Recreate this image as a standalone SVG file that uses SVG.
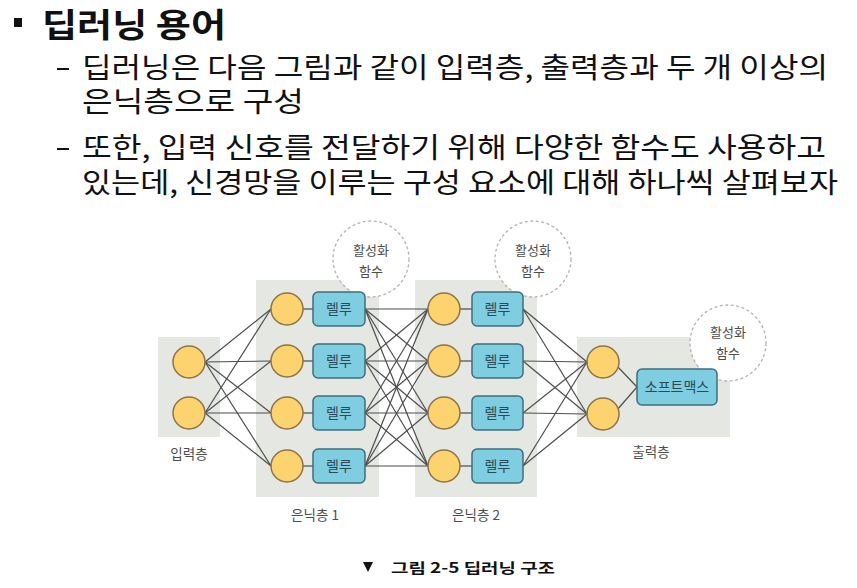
<svg xmlns="http://www.w3.org/2000/svg" width="857" height="588" viewBox="0 0 857 588">
<style>
.kr{font-family:"Noto Sans CJK KR","Noto Sans",sans-serif}
.body{font-size:28px;fill:#111}
.bg{fill:#e4e7e2}
.neu{fill:#fdd36f;stroke:#8c7447;stroke-width:1.5}
.box{fill:#7fcde0;stroke:#3f6f7c;stroke-width:1.5}
.btxt{font-size:14px;fill:#2c4a55;text-anchor:middle}
.lbl{font-size:13.5px;fill:#4d4d4d;text-anchor:middle}
.act{fill:#fff;stroke:#b3b3b3;stroke-width:1.3;stroke-dasharray:3 2.5}
.atxt{font-size:13px;fill:#4d4d4d;text-anchor:middle}
.conn line{stroke:#4d4d4d;stroke-width:1.2}
</style>
<rect width="857" height="588" fill="#fff"/>
<!-- Header text -->
<g id="header" class="kr">
<rect x="14" y="18" width="8" height="9" fill="#111"/>
<text x="42" y="37" font-size="33" font-weight="bold" fill="#111" textLength="184" lengthAdjust="spacingAndGlyphs">딥러닝 용어</text>
<rect x="57" y="68" width="12" height="2" fill="#111"/>
<text class="body"><tspan x="82" y="78" textLength="746" lengthAdjust="spacingAndGlyphs">딥러닝은 다음 그림과 같이 입력층, 출력층과 두 개 이상의</tspan><tspan x="82" y="112" textLength="222" lengthAdjust="spacingAndGlyphs">은닉층으로 구성</tspan></text>
<rect x="57" y="148" width="12" height="2" fill="#111"/>
<text class="body"><tspan x="82" y="158" textLength="744" lengthAdjust="spacingAndGlyphs">또한, 입력 신호를 전달하기 위해 다양한 함수도 사용하고</tspan><tspan x="82" y="193" textLength="756" lengthAdjust="spacingAndGlyphs">있는데, 신경망을 이루는 구성 요소에 대해 하나씩 살펴보자</tspan></text>
</g>
<!-- layer backgrounds -->
<g id="layer-bg">
<rect class="bg" x="158" y="337" width="62" height="100"/>
<rect class="bg" x="256" y="280" width="123" height="217"/>
<rect class="bg" x="415" y="280" width="122" height="217"/>
<rect class="bg" x="577" y="337" width="153" height="100"/>
</g>
<!-- activation function circles -->
<g id="act1"><circle class="act" cx="371" cy="259" r="38"/><text class="kr atxt" x="371" y="255">활성화</text><text class="kr atxt" x="371" y="276">함수</text></g>
<g id="act2"><circle class="act" cx="533" cy="259" r="38"/><text class="kr atxt" x="533" y="255">활성화</text><text class="kr atxt" x="533" y="276">함수</text></g>
<g id="act3"><circle class="act" cx="728" cy="343" r="38"/><text class="kr atxt" x="728" y="337">활성화</text><text class="kr atxt" x="728" y="358">함수</text></g>
<!-- connectors -->
<g id="connectors" class="conn">
<!-- input -> hidden1 -->
<line x1="205" y1="362" x2="271" y2="309"/><line x1="205" y1="362" x2="271" y2="361"/><line x1="205" y1="362" x2="271" y2="413"/><line x1="205" y1="362" x2="271" y2="466"/>
<line x1="205" y1="413" x2="271" y2="309"/><line x1="205" y1="413" x2="271" y2="361"/><line x1="205" y1="413" x2="271" y2="413"/><line x1="205" y1="413" x2="271" y2="466"/>
<!-- hidden1 neuron -> relu -->
<line x1="303" y1="309" x2="313" y2="309"/><line x1="303" y1="361" x2="313" y2="361"/><line x1="303" y1="413" x2="313" y2="413"/><line x1="303" y1="466" x2="313" y2="466"/>
<!-- relu1 -> hidden2 -->
<line x1="365" y1="309" x2="428" y2="309"/><line x1="365" y1="309" x2="428" y2="361"/><line x1="365" y1="309" x2="428" y2="413"/><line x1="365" y1="309" x2="428" y2="466"/>
<line x1="365" y1="361" x2="428" y2="309"/><line x1="365" y1="361" x2="428" y2="361"/><line x1="365" y1="361" x2="428" y2="413"/><line x1="365" y1="361" x2="428" y2="466"/>
<line x1="365" y1="413" x2="428" y2="309"/><line x1="365" y1="413" x2="428" y2="361"/><line x1="365" y1="413" x2="428" y2="413"/><line x1="365" y1="413" x2="428" y2="466"/>
<line x1="365" y1="466" x2="428" y2="309"/><line x1="365" y1="466" x2="428" y2="361"/><line x1="365" y1="466" x2="428" y2="413"/><line x1="365" y1="466" x2="428" y2="466"/>
<!-- hidden2 neuron -> relu -->
<line x1="460" y1="309" x2="472" y2="309"/><line x1="460" y1="361" x2="472" y2="361"/><line x1="460" y1="413" x2="472" y2="413"/><line x1="460" y1="466" x2="472" y2="466"/>
<!-- relu2 -> output -->
<line x1="523" y1="309" x2="587" y2="362"/><line x1="523" y1="309" x2="587" y2="414"/>
<line x1="523" y1="361" x2="587" y2="362"/><line x1="523" y1="361" x2="587" y2="414"/>
<line x1="523" y1="413" x2="587" y2="362"/><line x1="523" y1="413" x2="587" y2="414"/>
<line x1="523" y1="466" x2="587" y2="362"/><line x1="523" y1="466" x2="587" y2="414"/>
<!-- output -> softmax -->
<line x1="617" y1="366" x2="637" y2="387"/><line x1="617" y1="410" x2="637" y2="387"/>
</g>
<!-- input layer -->
<g id="input-layer">
<circle class="neu" cx="189" cy="362" r="16"/>
<circle class="neu" cx="189" cy="413" r="16"/>
<text class="kr lbl" x="189" y="459">입력층</text>
</g>
<!-- hidden layer 1 -->
<g id="hidden1">
<circle class="neu" cx="287" cy="309" r="16"/><circle class="neu" cx="287" cy="361" r="16"/><circle class="neu" cx="287" cy="413" r="16"/><circle class="neu" cx="287" cy="466" r="16"/>
<rect class="box" x="313" y="292" width="52" height="34" rx="5"/><text class="kr btxt" x="339" y="314">렐루</text>
<rect class="box" x="313" y="344" width="52" height="34" rx="5"/><text class="kr btxt" x="339" y="366">렐루</text>
<rect class="box" x="313" y="396" width="52" height="34" rx="5"/><text class="kr btxt" x="339" y="418">렐루</text>
<rect class="box" x="313" y="449" width="52" height="34" rx="5"/><text class="kr btxt" x="339" y="471">렐루</text>
<text class="kr lbl" x="315" y="520">은닉층 1</text>
</g>
<!-- hidden layer 2 -->
<g id="hidden2">
<circle class="neu" cx="444" cy="309" r="16"/><circle class="neu" cx="444" cy="361" r="16"/><circle class="neu" cx="444" cy="413" r="16"/><circle class="neu" cx="444" cy="466" r="16"/>
<rect class="box" x="472" y="292" width="51" height="34" rx="5"/><text class="kr btxt" x="497.5" y="314">렐루</text>
<rect class="box" x="472" y="344" width="51" height="34" rx="5"/><text class="kr btxt" x="497.5" y="366">렐루</text>
<rect class="box" x="472" y="396" width="51" height="34" rx="5"/><text class="kr btxt" x="497.5" y="418">렐루</text>
<rect class="box" x="472" y="449" width="51" height="34" rx="5"/><text class="kr btxt" x="497.5" y="471">렐루</text>
<text class="kr lbl" x="476" y="520">은닉층 2</text>
</g>
<!-- output layer -->
<g id="output-layer">
<circle class="neu" cx="603" cy="362" r="16"/>
<circle class="neu" cx="603" cy="414" r="16"/>
<rect class="box" x="637" y="369" width="80" height="36" rx="5"/><text class="kr btxt" x="677" y="392">소프트맥스</text>
<text class="kr lbl" x="651" y="457">출력층</text>
</g>
<!-- caption -->
<g id="caption" class="kr">
<polygon points="363,562 373,562 368,572" fill="#111"/>
<text x="391" y="573" font-size="14" font-weight="bold" fill="#111" textLength="164" lengthAdjust="spacingAndGlyphs">그림 2-5 딥러닝 구조</text>
</g>
</svg>
